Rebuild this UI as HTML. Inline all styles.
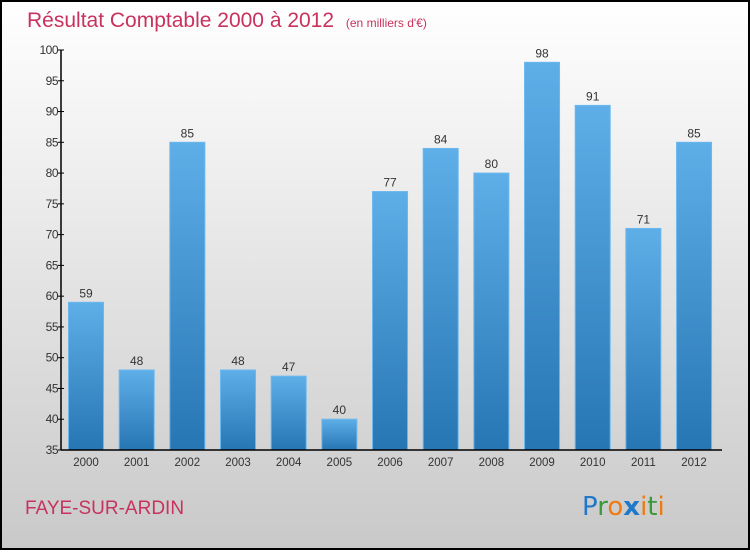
<!DOCTYPE html>
<html><head><meta charset="utf-8"><style>
html,body{margin:0;padding:0}
body{width:750px;height:550px;overflow:hidden;font-family:"Liberation Sans",sans-serif}
</style></head><body>
<svg id="chart" width="750" height="550" xmlns="http://www.w3.org/2000/svg">
<defs>
<linearGradient id="bg" x1="0" y1="0" x2="0" y2="1"><stop offset="0" stop-color="#ffffff"/><stop offset="1" stop-color="#c9c9c9"/></linearGradient>
<linearGradient id="bar" x1="0" y1="0" x2="0" y2="1"><stop offset="0" stop-color="#5eaee8"/><stop offset="1" stop-color="#2776b4"/></linearGradient>
</defs>
<rect x="1" y="1" width="748" height="548" fill="url(#bg)" stroke="#000" stroke-width="2"/>
<text x="27" y="27" font-size="21" fill="#c8325e">Résultat Comptable 2000 à 2012 <tspan font-size="12" dx="6">(en milliers d'€)</tspan></text>
<text x="25" y="514" font-size="19" fill="#c8325e">FAYE-SUR-ARDIN</text>
<g font-size="26" font-family="'DejaVu Sans',sans-serif">
<text x="582" y="515"><tspan fill="#1f78c8">P</tspan><tspan fill="#3a9a3a">r</tspan><tspan fill="#f07a10">o</tspan><tspan fill="#1f78c8" font-weight="bold">x</tspan><tspan fill="#f07a10">i</tspan><tspan fill="#3a9a3a">t</tspan><tspan fill="#f07a10">i</tspan></text>
</g>
<g id="plot"></g>
</svg>
<script>
const categories=["2000","2001","2002","2003","2004","2005","2006","2007","2008","2009","2010","2011","2012"];
const values=[59,48,85,48,47,40,77,84,80,98,91,71,85];
const yTicks=[35,40,45,50,55,60,65,70,75,80,85,90,95,100];
const NS="http://www.w3.org/2000/svg";
const plotG=document.getElementById('plot');
const yMin=35,yMax=100,plotTop=50,plotBot=450,axX=61,axEnd=722;
const yScale=v=>plotBot-(v-yMin)/(yMax-yMin)*(plotBot-plotTop);
const step=50.67,x0=86,bw=35;
const xScale=i=>x0+i*step;
function el(t,a){const e=document.createElementNS(NS,t);for(const k in a)e.setAttribute(k,a[k]);plotG.appendChild(e);return e;}
values.forEach((v,i)=>{
 const r=el('rect',{x:xScale(i)-bw/2,y:yScale(v),width:bw,height:plotBot-yScale(v),fill:'url(#bar)',stroke:'#6bb8ee','stroke-width':1});
 
 
 const t=el('text',{x:xScale(i),y:yScale(v)-5,'text-anchor':'middle','font-size':12,fill:'#333'});
 t.textContent=v;
 
 
 const c=el('text',{x:xScale(i),y:plotBot+16,'text-anchor':'middle','font-size':11.5,fill:'#333'});
 c.textContent=categories[i];
 
 
});
yTicks.forEach(v=>{
 const l=el('line',{x1:axX-3,x2:axX+3,y1:yScale(v),y2:yScale(v),stroke:'#000'});
 
 
 const t=el('text',{x:axX-3,y:yScale(v)+4,'text-anchor':'end','font-size':12,fill:'#333','letter-spacing':'-0.5'});
 t.textContent=v;
 
 
});
const ya=el('line',{x1:axX,x2:axX,y1:plotTop,y2:plotBot,stroke:'#000','stroke-width':1.5});


const xa=el('line',{x1:axX,x2:axEnd,y1:plotBot,y2:plotBot,stroke:'#000','stroke-width':1.5});


</script>
</body></html>
